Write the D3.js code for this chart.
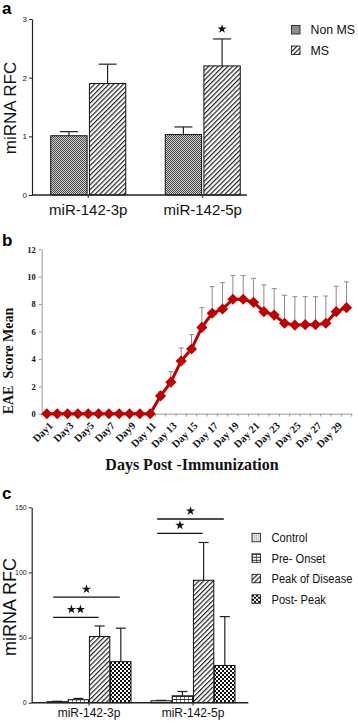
<!DOCTYPE html>
<html>
<head>
<meta charset="utf-8">
<script src="https://cdn.jsdelivr.net/npm/d3@7"></script>
<style>
  body { margin: 0; background: #fff; }
  svg { display: block; }
</style>
</head>
<body>
<div id="chart"></div>
<script>
// ---- data ----
// panel a
var catsA = ["miR-142-3p", "miR-142-5p"];
var seriesA = ["Non MS", "MS"];
var nonMsMean = [1.01, 1.03];
var nonMsErr = [0.07, 0.13];
var msMean = [1.9, 2.2];
var msErr = [0.33, 0.46];
var ticksA = [0, 1, 2, 3];

// panel b
var days = ["Day1", "Day2", "Day3", "Day4", "Day5", "Day6", "Day7", "Day8", "Day9", "Day10",
            "Day 11", "Day 12", "Day 13", "Day 14", "Day 15", "Day 16", "Day 17", "Day 18", "Day 19", "Day 20",
            "Day 21", "Day 22", "Day 23", "Day 24", "Day 25", "Day 26", "Day 27", "Day 28", "Day 29", "Day 30"];
var scoreMean = [0, 0, 0, 0, 0, 0, 0, 0, 0, 0,
                 0, 1.3, 2.3, 3.85, 4.72, 6.3, 7.33, 7.64, 8.35, 8.35,
                 8.13, 7.45, 7.2, 6.6, 6.47, 6.5, 6.5, 6.6, 7.45, 7.74];
var scoreErr = [0, 0, 0, 0, 0, 0, 0, 0, 0, 0,
                0, 0.3, 0.77, 0.95, 1.05, 1.44, 1.94, 1.93, 1.73, 1.73,
                1.75, 1.95, 1.93, 2.04, 2.07, 2.04, 2.04, 1.99, 1.85, 1.88];
var ticksB = [0, 2, 4, 6, 8, 10, 12];

// panel c
var catsC = ["miR-142-3p", "miR-142-5p"];
var seriesC = ["Control", "Pre- Onset", "Peak of Disease", "Post- Peak"];
var controlMean = [0.8, 1.5];
var controlErr = [0.3, 0.3];
var preMean = [2.3, 5.3];
var preErr = [1.0, 3.3];
var peakMean = [50.8, 94];
var peakErr = [8.1, 29];
var postMean = [31.5, 28.6];
var postErr = [25.7, 37.5];
var ticksC = [0, 50, 100, 150];
// significance bars: from series, to series, height (RFC units), number of stars
var sigC = [
  { cat: "miR-142-3p", from: "Control", to: "Post- Peak", y: 81, n: 1 },
  { cat: "miR-142-3p", from: "Control", to: "Peak of Disease", y: 65.5, n: 2 },
  { cat: "miR-142-5p", from: "Control", to: "Post- Peak", y: 141, n: 1 },
  { cat: "miR-142-5p", from: "Control", to: "Peak of Disease", y: 130, n: 1 }
];

var sans = "'Liberation Sans', Arial, sans-serif";
var serif = "'Liberation Serif', 'Times New Roman', serif";

var svg = d3.select("#chart").append("svg")
    .attr("width", 358)
    .attr("height", 726);

// ---- fill patterns ----
var defs = svg.append("defs");
function pattern(id, w, h) {
  return defs.append("pattern").attr("id", id)
    .attr("patternUnits", "userSpaceOnUse")
    .attr("width", w).attr("height", h);
}
var p = pattern("fineCheck", 2, 2);
p.append("rect").attr("width", 2).attr("height", 2).attr("fill", "#cfcfcf");
p.append("rect").attr("width", 1).attr("height", 1).attr("fill", "#4a4a4a");
p.append("rect").attr("x", 1).attr("y", 1).attr("width", 1).attr("height", 1).attr("fill", "#4a4a4a");

p = pattern("hatch", 3.4, 3.4).attr("patternTransform", "rotate(45)");
p.append("rect").attr("width", 3.4).attr("height", 3.4).attr("fill", "#fff");
p.append("line").attr("x1", 0.6).attr("x2", 0.6).attr("y1", 0).attr("y2", 3.4)
  .attr("stroke", "#111").attr("stroke-width", 1.1);

p = pattern("dots", 2, 2);
p.append("rect").attr("width", 2).attr("height", 2).attr("fill", "#e6e6e6");
p.append("rect").attr("width", 1).attr("height", 1).attr("fill", "#a8a8a8");

p = pattern("bricks", 4, 3);
p.append("rect").attr("width", 4).attr("height", 3).attr("fill", "#fff");
p.append("rect").attr("width", 4).attr("height", 1).attr("fill", "#333");
p.append("rect").attr("x", 0).attr("y", 1).attr("width", 1).attr("height", 2).attr("fill", "#777");

p = pattern("bigCheck", 4, 4);
p.append("rect").attr("width", 4).attr("height", 4).attr("fill", "#fff");
p.append("rect").attr("width", 2).attr("height", 2).attr("fill", "#111");
p.append("rect").attr("x", 2).attr("y", 2).attr("width", 2).attr("height", 2).attr("fill", "#111");

var fillA = { "Non MS": "url(#fineCheck)", "MS": "url(#hatch)" };
var fillC = { "Control": "url(#dots)", "Pre- Onset": "url(#bricks)",
              "Peak of Disease": "url(#hatch)", "Post- Peak": "url(#bigCheck)" };

// ---- panel letters ----
svg.append("text").attr("x", 2).attr("y", 14).text("a")
  .style("font", "bold 17px " + sans);
svg.append("text").attr("x", 2).attr("y", 246).text("b")
  .style("font", "bold 17px " + sans);
svg.append("text").attr("x", 2).attr("y", 499).text("c")
  .style("font", "bold 17px " + sans);

// ---- grouped bar helper for panels a and c ----
function barPanel(opt) {
  var g = svg.append("g");
  var x0 = d3.scaleBand().domain(opt.cats).range(opt.xRange);
  var x1 = d3.scaleBand().domain(opt.series).range(opt.innerRange).paddingInner(opt.innerPad);
  var y = d3.scaleLinear().domain(opt.yDomain).range(opt.yRange);

  var rows = [];
  opt.cats.forEach(function (c, i) {
    opt.series.forEach(function (s, j) {
      rows.push({ cat: c, s: s, v: opt.means[j][i], e: opt.errs[j][i] });
    });
  });
  function bx(d) { return x0(d.cat) + x0.bandwidth() / 2 + x1(d.s); }

  // error bars (upper only)
  var eb = g.selectAll("g.err").data(rows).enter().append("g").attr("class", "err");
  eb.append("line")
    .attr("x1", function (d) { return bx(d) + x1.bandwidth() / 2; })
    .attr("x2", function (d) { return bx(d) + x1.bandwidth() / 2; })
    .attr("y1", function (d) { return y(d.v); })
    .attr("y2", function (d) { return y(d.v + d.e); })
    .attr("stroke", "#222").attr("stroke-width", 1.2);
  eb.append("line")
    .attr("x1", function (d) { return bx(d) + x1.bandwidth() / 2 - opt.cap; })
    .attr("x2", function (d) { return bx(d) + x1.bandwidth() / 2 + opt.cap; })
    .attr("y1", function (d) { return y(d.v + d.e); })
    .attr("y2", function (d) { return y(d.v + d.e); })
    .attr("stroke", "#222").attr("stroke-width", 1.2);

  g.selectAll("rect.bar").data(rows).enter().append("rect")
    .attr("class", "bar")
    .attr("x", bx)
    .attr("y", function (d) { return y(d.v); })
    .attr("width", x1.bandwidth())
    .attr("height", function (d) { return y(0) - y(d.v); })
    .attr("fill", function (d) { return opt.fills[d.s]; })
    .attr("stroke", "#111").attr("stroke-width", 1);

  // y axis
  var ya = g.append("g").attr("transform", "translate(" + opt.axisX + ",0)")
    .call(d3.axisLeft(y).tickValues(opt.ticks).tickFormat(d3.format("d"))
      .tickSize(3).tickSizeOuter(0).tickPadding(2));
  ya.select(".domain").attr("stroke", "#222").attr("stroke-width", 1.2);
  ya.selectAll(".tick line").attr("stroke", "#222");
  ya.selectAll("text").style("font", opt.tickFont + "px " + sans).attr("fill", "#222");

  // x axis
  var xa = g.append("g").attr("transform", "translate(0," + y(0) + ")")
    .call(d3.axisBottom(x0).tickSize(3).tickSizeOuter(0).tickPadding(opt.xPad));
  xa.select(".domain").remove();
  xa.append("line").attr("x1", opt.axisX).attr("x2", opt.axisEnd)
    .attr("stroke", "#222").attr("stroke-width", 1.4);
  xa.selectAll(".tick line").attr("stroke", "#222");
  xa.selectAll("text").style("font", opt.catFont + "px " + sans).attr("fill", "#111");

  // y title
  g.append("text")
    .attr("transform", "translate(" + opt.titleX + "," + opt.titleY + ") rotate(-90)")
    .attr("text-anchor", "middle")
    .style("font", opt.titleFont + "px " + sans)
    .attr("fill", "#111")
    .text("miRNA RFC");

  // legend
  var lg = g.selectAll("g.leg").data(opt.series).enter().append("g")
    .attr("transform", function (d, i) { return "translate(" + opt.legX + "," + (opt.legY + i * opt.legStep) + ")"; });
  lg.append("rect").attr("width", 8.5).attr("height", 8.5)
    .attr("fill", function (d) { return opt.fills[d]; })
    .attr("stroke", "#111").attr("stroke-width", 0.8);
  lg.append("text")
    .attr("transform", "translate(" + opt.legTextX + ",8.8) scale(" + opt.legScale + ",1)")
    .style("font", opt.legFont + "px " + sans).attr("fill", "#111")
    .text(function (d) { return d; });

  return { x0: x0, x1: x1, y: y, g: g };
}

// ---- panel a ----
var pa = barPanel({
  cats: catsA, series: seriesA,
  means: [nonMsMean, msMean], errs: [nonMsErr, msErr],
  xRange: [31, 260], innerRange: [-37.5, 37.5], innerPad: 0.06,
  yDomain: [0, 3], yRange: [195, 19], ticks: ticksA,
  axisX: 32, axisEnd: 247, cap: 9, tickFont: 8, catFont: 15, xPad: 6,
  titleX: 16, titleY: 108, titleFont: 17,
  fills: fillA, legX: 291.5, legY: 25.5, legStep: 20.5, legFont: 13,
  legTextX: 19, legScale: 0.95
});
var star = d3.symbol().type(d3.symbolStar).size(26);
pa.g.append("path").attr("d", star)
  .attr("transform", "translate(" + (pa.x0("miR-142-5p") + pa.x0.bandwidth() / 2 + pa.x1("MS") + pa.x1.bandwidth() / 2) + "," + (pa.y(msMean[1] + msErr[1]) - 10) + ")")
  .attr("fill", "#111");

// ---- panel b ----
var gB = svg.append("g");
var xB = d3.scaleBand().domain(days).range([41.7, 351.7]);
var yB = d3.scaleLinear().domain([0, 12]).range([413.7, 249.3]);
var ptsB = days.map(function (d, i) { return { day: d, v: scoreMean[i], e: scoreErr[i] }; });
function cx(d) { return xB(d.day) + xB.bandwidth() / 2; }

var yaB = gB.append("g").attr("transform", "translate(41.7,0)")
  .call(d3.axisLeft(yB).tickValues(ticksB).tickSize(3).tickSizeOuter(0).tickPadding(3));
yaB.select(".domain").attr("stroke", "#9a9a9a");
yaB.selectAll(".tick line").attr("stroke", "#9a9a9a");
yaB.selectAll("text").style("font", "bold 8.5px " + serif).attr("fill", "#111");

var xaB = gB.append("g").attr("transform", "translate(0,413.7)")
  .call(d3.axisBottom(xB).tickValues(days.filter(function (d, i) { return i % 2 === 0; }))
    .tickSize(0).tickSizeOuter(0));
xaB.select(".domain").attr("stroke", "#9a9a9a");
xaB.selectAll("text")
  .attr("x", 0).attr("y", 0).attr("dy", "0.35em")
  .attr("transform", "translate(4,10) rotate(-45)")
  .style("text-anchor", "end")
  .style("font", "bold 10.5px " + serif).attr("fill", "#111");
// small tick marks on band boundaries
gB.selectAll("line.btick").data(days.concat(["end"])).enter().append("line")
  .attr("x1", function (d) { return d === "end" ? xB.range()[1] : xB(d); })
  .attr("x2", function (d) { return d === "end" ? xB.range()[1] : xB(d); })
  .attr("y1", 413.7).attr("y2", 416.5)
  .attr("stroke", "#9a9a9a");

// error bars (grey)
var ebB = gB.selectAll("g.errB").data(ptsB.filter(function (d) { return d.e > 0; })).enter().append("g");
ebB.append("line")
  .attr("x1", cx).attr("x2", cx)
  .attr("y1", function (d) { return yB(d.v); })
  .attr("y2", function (d) { return yB(d.v + d.e); })
  .attr("stroke", "#8c8c8c").attr("stroke-width", 1);
ebB.append("line")
  .attr("x1", function (d) { return cx(d) - 2.5; })
  .attr("x2", function (d) { return cx(d) + 2.5; })
  .attr("y1", function (d) { return yB(d.v + d.e); })
  .attr("y2", function (d) { return yB(d.v + d.e); })
  .attr("stroke", "#8c8c8c").attr("stroke-width", 1);

gB.append("path").datum(ptsB)
  .attr("d", d3.line().x(cx).y(function (d) { return yB(d.v); }))
  .attr("fill", "none").attr("stroke", "#c00000").attr("stroke-width", 3);

var diamond = d3.symbol().type(d3.symbolSquare).size(62);
gB.selectAll("path.pt").data(ptsB).enter().append("path")
  .attr("class", "pt")
  .attr("d", diamond)
  .attr("transform", function (d) { return "translate(" + cx(d) + "," + yB(d.v) + ") rotate(45)"; })
  .attr("fill", "#c00000");

gB.append("text")
  .attr("transform", "translate(13,361) rotate(-90)")
  .attr("text-anchor", "middle")
  .style("font", "bold 14px " + serif).attr("fill", "#111")
  .attr("xml:space", "preserve")
  .text("EAE  Score Mean");
gB.append("text")
  .attr("x", 192).attr("y", 470)
  .attr("text-anchor", "middle")
  .style("font", "bold 16px " + serif).attr("fill", "#111")
  .text("Days Post -Immunization");

// ---- panel c ----
var pc = barPanel({
  cats: catsC, series: seriesC,
  means: [controlMean, preMean, peakMean, postMean],
  errs: [controlErr, preErr, peakErr, postErr],
  xRange: [37, 245], innerRange: [-42, 42], innerPad: 0.04,
  yDomain: [0, 150], yRange: [702.7, 507.3], ticks: ticksC,
  axisX: 31.7, axisEnd: 248.3, cap: 5, tickFont: 7, catFont: 12, xPad: 3,
  titleX: 16, titleY: 607, titleFont: 18,
  fills: fillC, legX: 252, legY: 533.3, legStep: 20.5, legFont: 12.5,
  legTextX: 19.5, legScale: 0.89
});
function sx(cat, s) { return pc.x0(cat) + pc.x0.bandwidth() / 2 + pc.x1(s) + pc.x1.bandwidth() / 2; }
var sg = pc.g.selectAll("g.sig").data(sigC).enter().append("g");
sg.append("line")
  .attr("x1", function (d) { return sx(d.cat, d.from) - 4; })
  .attr("x2", function (d) { return sx(d.cat, d.to) - 1; })
  .attr("y1", function (d) { return pc.y(d.y); })
  .attr("y2", function (d) { return pc.y(d.y); })
  .attr("stroke", "#111").attr("stroke-width", 1.3);
sg.each(function (d) {
  var mid = (sx(d.cat, d.from) - 4 + sx(d.cat, d.to) - 1) / 2;
  for (var k = 0; k < d.n; k++) {
    var off = d.n === 1 ? 0 : (k - (d.n - 1) / 2) * 9;
    d3.select(this).append("path").attr("d", star)
      .attr("transform", "translate(" + (mid + off) + "," + (pc.y(d.y) - 8) + ")")
      .attr("fill", "#111");
  }
});
</script>
</body>
</html>
